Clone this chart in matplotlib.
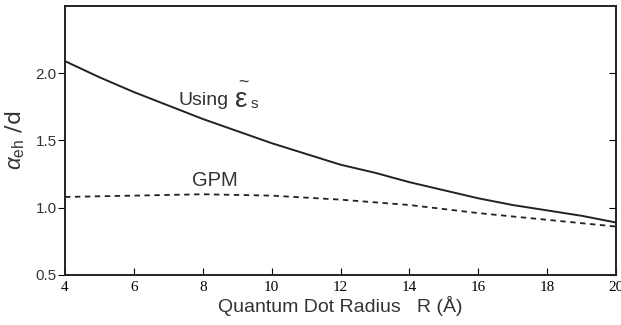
import numpy as np
import matplotlib.pyplot as plt

plt.rcParams['mathtext.fontset'] = 'custom'
plt.rcParams['mathtext.rm'] = 'Liberation Sans'
plt.rcParams['mathtext.it'] = 'Liberation Sans:italic'

# Dados
raio = [4, 5, 6, 7, 8, 9, 10, 11, 12, 13, 14, 15, 16, 17, 18, 19, 20]
usando_eps = [2.09, 1.97, 1.86, 1.76, 1.66, 1.57, 1.48, 1.40, 1.32, 1.26,
              1.19, 1.13, 1.07, 1.02, 0.98, 0.94, 0.89]
raio_gpm = [4, 6, 8, 10, 12, 14, 16, 18, 20]
gpm = [1.08, 1.09, 1.10, 1.09, 1.06, 1.02, 0.96, 0.91, 0.86]

xticks = [4, 6, 8, 10, 12, 14, 16, 18, 20]
yticks = [0.5, 1.0, 1.5, 2.0]

fig = plt.figure(figsize=(6.21, 3.25), dpi=100)
ax = fig.add_axes([0.1047, 0.154, 0.8873, 0.8275])

ax.plot(raio, usando_eps, color='#222222', lw=1.4)
ax.plot(raio_gpm, gpm, color='#222222', lw=1.3, ls=(0, (3, 2.5)))

ax.set_xlim(4, 20)
ax.set_ylim(0.5, 2.5)
ax.set_xticks(xticks)
ax.set_yticks(yticks)
ax.set_yticklabels(['0.5', '1.0', '1.5', '2.0'], fontsize=11, family='Liberation Sans',
                   color='#333333')
ax.set_xticklabels([str(v) for v in xticks], fontsize=11, family='Liberation Serif')
ax.tick_params(axis='x', direction='in', length=5, pad=4)
ax.tick_params(axis='y', direction='out', length=5, pad=1)

# ticks internos no lado direito
ax2 = ax.twinx()
ax2.set_ylim(0.5, 2.5)
ax2.set_yticks(yticks)
ax2.set_yticklabels([])
ax2.tick_params(axis='y', direction='in', length=5)

for a in (ax, ax2):
    for s in a.spines.values():
        s.set_linewidth(1.2)
        s.set_color('#222222')

# rotulo "Using eps~_s" montado em partes
cor_txt = '#333333'
ax.text(7.3, 1.80, 'Using', fontsize=14, family='Liberation Sans', va='center',
        color=cor_txt)
ax.text(8.93, 1.80, 'ε', fontsize=20, family='Liberation Sans', va='center',
        color=cor_txt)
ax.text(9.40, 1.77, 's', fontsize=11, family='Liberation Sans', va='center',
        color=cor_txt)
ax.text(9.18, 1.93, '~', fontsize=13, family='Liberation Sans', va='center',
        ha='center', color=cor_txt)
ax.text(7.7, 1.2, 'GPM', fontsize=14.5, family='Liberation Sans', va='center',
        color=cor_txt)

ax.set_xlabel('Quantum Dot Radius   R (Å)', fontsize=14, family='Liberation Sans',
              labelpad=2, color=cor_txt)
ax.set_ylabel(r'$\alpha_{\rm eh}$ /d', fontsize=16, labelpad=6, color=cor_txt)

fig.savefig('out.png', dpi=100)
